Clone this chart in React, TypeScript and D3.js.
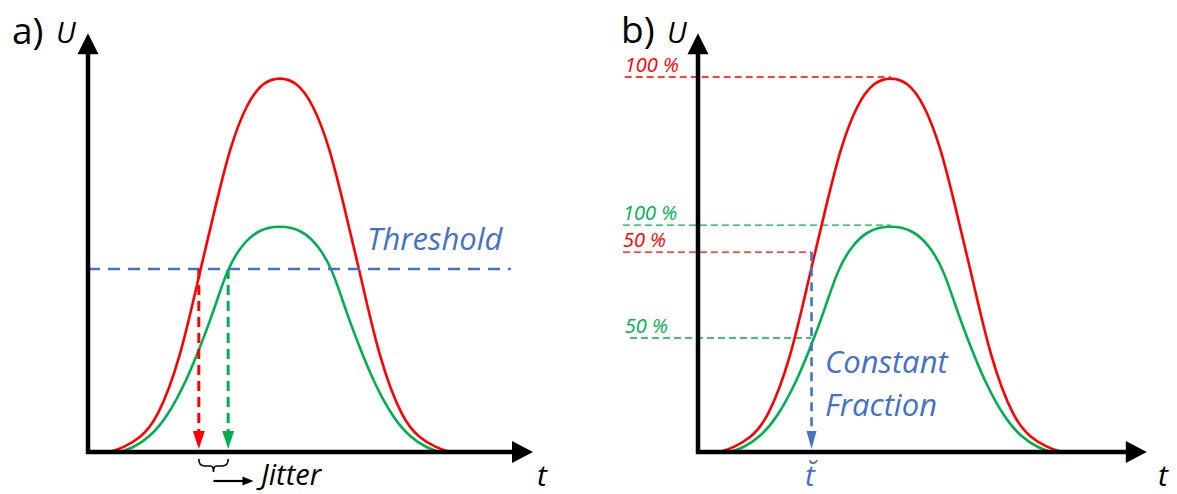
import React from "react";
import * as d3 from "d3";

// Pulse shapes (t in axis units 0..100, U in % of the large pulse)
const redT = [4.9, 7.9, 11.7, 15.5, 20.7, 25.2, 29.0, 31.9, 35.7, 39.3, 43.1, 46.9, 50.5, 54.3, 57.2, 61.0, 65.5, 70.7, 74.5, 78.3, 81.3];
const redU = [0, 1.1, 3.7, 8.5, 24.5, 48.5, 67.2, 81.3, 93.1, 98.7, 100, 98.7, 93.1, 81.3, 67.2, 48.5, 24.5, 8.5, 3.7, 1.1, 0];
const greenT = [7.2, 10.1, 13.9, 17.8, 22.2, 25.2, 28.1, 31.2, 34.2, 38.0, 43.1, 48.2, 52.0, 55.0, 58.1, 61.0, 64.0, 68.4, 72.3, 76.1, 79.0];
const greenU = [0, 1.1, 4.0, 9.3, 19.2, 28, 37.1, 48.5, 54.7, 59.2, 60.5, 59.2, 54.7, 48.5, 37.1, 28, 19.2, 9.3, 4.0, 1.1, 0];

// Panel a: leading-edge threshold
const thresholdU = 48.8;
const redCrossT = 24.9;
const greenCrossT = 31.5;

// Panel b: constant fraction levels
const cfLabels = ["100 %", "100 %", "50 %", "50 %"];
const cfLevelsU = [100, 60.5, 53.3, 30.4];
const cfColors = ["red", "green", "red", "green"];
const cfLabelStart = [-16.4, -16.8, -16.8, -16.4];
const cfLineStart = [-16.4, -16.8, -16.8, -15.2];
const cfLineEnd = [43.1, 43.1, 25.4, 25.4];
const cfTime = 25.4;

const RED = "#FF0000";
const GREEN = "#00B050";
const BLUE = "#4472C4";
const FONT = "'Open Sans', Lato, sans-serif";

const yScale = d3.scaleLinear().domain([0, 100]).range([452, 77]);
const U_MAX = 111.7;

function pts(ts: number[], us: number[]) {
  return ts.map((t, i) => [t, us[i]] as [number, number]);
}

function Axes({ x, tMax }: { x: d3.ScaleLinear<number, number>; tMax: number }) {
  const x0 = x(0);
  const y0 = yScale(0);
  const yTop = yScale(U_MAX);
  const xEnd = x(tMax);
  return (
    <g>
      <line x1={x0} y1={y0 + 2} x2={x0} y2={yTop + 18} stroke="#000" strokeWidth={4.5} />
      <polygon points={`${x0},${yTop} ${x0 - 10.5},${yTop + 21} ${x0 + 10.5},${yTop + 21}`} fill="#000" />
      <line x1={x0 - 2} y1={y0} x2={xEnd - 18} y2={y0} stroke="#000" strokeWidth={4.5} />
      <polygon points={`${xEnd},${y0} ${xEnd - 21},${y0 - 11} ${xEnd - 21},${y0 + 11}`} fill="#000" />
    </g>
  );
}

function Curves({ x }: { x: d3.ScaleLinear<number, number> }) {
  const line = d3
    .line<[number, number]>()
    .x((d) => x(d[0]))
    .y((d) => yScale(d[1]))
    .curve(d3.curveBasis);
  return (
    <g fill="none" strokeWidth={2.6}>
      <path d={line(pts(greenT, greenU)) || ""} stroke={GREEN} />
      <path d={line(pts(redT, redU)) || ""} stroke={RED} />
    </g>
  );
}

function DownArrow({ x, y1, color, w, dash, sw }: { x: number; y1: number; color: string; w: number; dash: string; sw: number }) {
  const tip = yScale(0) - 3;
  const base = tip - 18;
  return (
    <g>
      <line x1={x} y1={y1} x2={x} y2={base} stroke={color} strokeWidth={sw} strokeDasharray={dash} />
      <polygon points={`${x},${tip} ${x - w / 2},${base} ${x + w / 2},${base}`} fill={color} />
    </g>
  );
}

export default function App() {
  const xA = d3.scaleLinear().domain([0, 100]).range([88, 533]);
  const xB = d3.scaleLinear().domain([0, 100]).range([698, 1145]);

  const thrY = yScale(thresholdU);
  const rx = xA(redCrossT);
  const gx = xA(greenCrossT);
  const mid = (rx + gx) / 2;
  const by = yScale(0) + 7;

  return (
    <svg
      width={1177}
      height={494}
      style={{ position: "fixed", left: 0, top: 0, background: "#fff" }}
      fontFamily={FONT}
    >
      <rect width={1177} height={494} fill="#fff" />

      {/* Panel a */}
      <text x={12} y={44} fontSize={37} fill="#000">a)</text>
      <text x={56} y={43} fontSize={29} fontStyle="italic" fill="#000">U</text>
      <Curves x={xA} />
      <line x1={xA(0)} y1={thrY} x2={xA(95)} y2={thrY} stroke={BLUE} strokeWidth={2.6} strokeDasharray="12 8" />
      <text x={367} y={250} fontSize={31} fontStyle="italic" fill={BLUE}>Threshold</text>
      <DownArrow x={rx} y1={thrY} color={RED} w={12} dash="10 6" sw={3} />
      <DownArrow x={gx} y1={thrY} color={GREEN} w={12} dash="10 6" sw={3} />
      <Axes x={xA} tMax={100} />
      <path
        d={`M${rx},${by} Q${rx},${by + 7} ${rx + 6},${by + 7} L${mid - 3},${by + 7} Q${mid},${by + 7} ${mid},${by + 13} Q${mid},${by + 7} ${mid + 3},${by + 7} L${gx - 6},${by + 7} Q${gx},${by + 7} ${gx},${by}`}
        fill="none"
        stroke="#000"
        strokeWidth={1.6}
      />
      <line x1={mid} y1={481} x2={mid + 30} y2={481} stroke="#000" strokeWidth={2.2} />
      <polygon points={`${mid + 40},481 ${mid + 29},476.5 ${mid + 29},485.5`} fill="#000" />
      <text x={261} y={485} fontSize={29} fontStyle="italic" fill="#000">Jitter</text>
      <text x={537} y={486} fontSize={30} fontStyle="italic" fill="#000">t</text>

      {/* Panel b */}
      <text x={621} y={43} fontSize={37} fill="#000">b)</text>
      <text x={667} y={43} fontSize={29} fontStyle="italic" fill="#000">U</text>
      {cfLevelsU.map((u, i) => (
        <g key={i}>
          <line
            x1={xB(cfLineStart[i])}
            y1={yScale(u)}
            x2={xB(cfLineEnd[i])}
            y2={yScale(u)}
            stroke={cfColors[i] === "red" ? RED : GREEN}
            strokeWidth={1.4}
            strokeDasharray="7 4"
          />
          <text
            x={xB(cfLabelStart[i])}
            y={yScale(u) - 5}
            fontSize={20}
            fontStyle="italic"
            fill={cfColors[i] === "red" ? RED : GREEN}
          >
            {cfLabels[i]}
          </text>
        </g>
      ))}
      <Curves x={xB} />
      <DownArrow x={xB(cfTime)} y1={yScale(cfLevelsU[2])} color={BLUE} w={10} dash="9 6" sw={2.6} />
      <Axes x={xB} tMax={100.4} />
      <text x={825} y={373} fontSize={31} fontStyle="italic" fill={BLUE}>Constant</text>
      <text x={825} y={416} fontSize={31} fontStyle="italic" fill={BLUE}>Fraction</text>
      <text x={805} y={486} fontSize={30} fontStyle="italic" fill={BLUE}>{"t\u0306"}</text>
      <text x={1158} y={486} fontSize={30} fontStyle="italic" fill="#000">t</text>
    </svg>
  );
}
